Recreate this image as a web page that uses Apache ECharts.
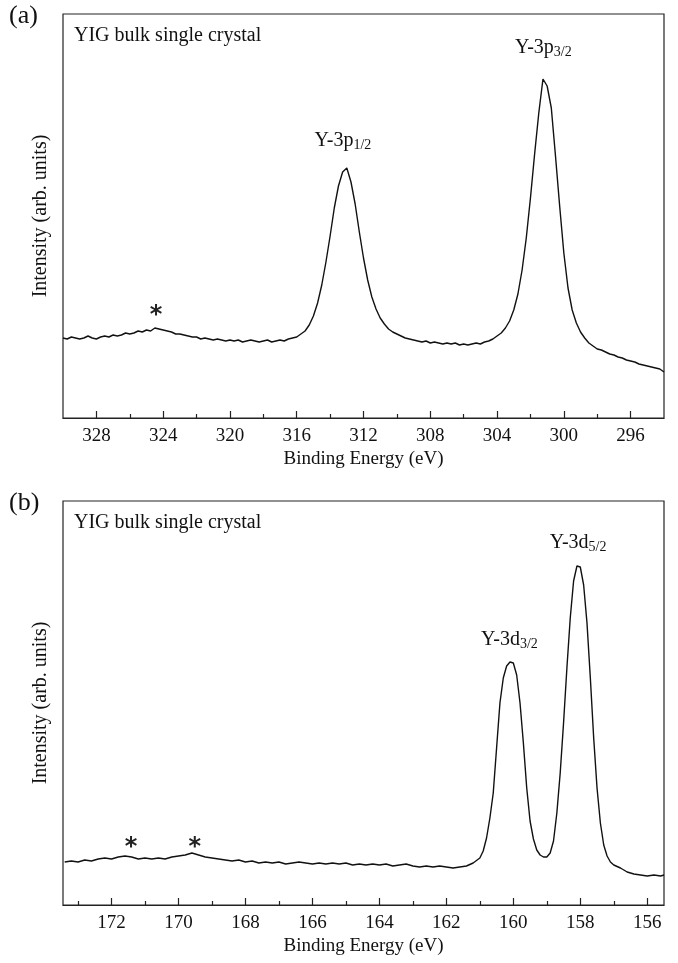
<!DOCTYPE html>
<html><head><meta charset="utf-8">
<script src="https://cdn.jsdelivr.net/npm/echarts@6/dist/echarts.min.js"></script>
<style>html,body{margin:0;padding:0;background:#fff}#c{width:678px;height:963px}</style>
</head><body><div id="c"></div><script>
const FONT = '"Liberation Serif","DejaVu Serif","Times New Roman",serif';

// Panel (a): Y-3p region, [binding energy (eV), intensity (arb.)]
const specA = [
[330.00,80],[329.75,79],[329.50,81],[329.25,80],[329.00,79],[328.75,80],[328.50,82],[328.25,80],[328.00,79],[327.75,81],
[327.50,82],[327.25,81],[327.00,83],[326.75,82],[326.50,83],[326.25,85],[326.00,84],[325.75,85],[325.50,87],[325.25,86],
[325.00,88],[324.75,87],[324.50,90],[324.25,89],[324.00,88],[323.75,87],[323.50,86],[323.25,84],[323.00,84],[322.75,83],
[322.50,82],[322.25,81],[322.00,81],[321.75,79],[321.50,80],[321.25,79],[321.00,78],[320.75,79],[320.50,78],[320.25,77],
[320.00,78],[319.75,77],[319.50,78],[319.25,76],[319.00,77],[318.75,78],[318.50,77],[318.25,76],[318.00,77],[317.75,78],
[317.50,76],[317.25,77],[317.00,78],[316.75,77],[316.50,79],[316.25,80],[316.00,81],[315.75,84],[315.50,87],[315.25,93],
[315.00,102],[314.75,115],[314.50,133],[314.25,156],[314.00,182],[313.75,210],[313.50,232],[313.25,246],[313.00,250],[312.75,236],
[312.50,214],[312.25,186],[312.00,160],[311.75,138],[311.50,121],[311.25,109],[311.00,100],[310.75,94],[310.50,89],[310.25,86],
[310.00,84],[309.75,82],[309.50,80],[309.25,79],[309.00,78],[308.75,77],[308.50,76],[308.25,77],[308.00,75],[307.75,76],
[307.50,75],[307.25,74],[307.00,75],[306.75,74],[306.50,75],[306.25,73],[306.00,74],[305.75,73],[305.50,74],[305.25,75],
[305.00,74],[304.75,76],[304.50,77],[304.25,79],[304.00,82],[303.75,85],[303.50,90],[303.25,97],[303.00,108],[302.75,124],
[302.50,148],[302.25,180],[302.00,220],[301.75,264],[301.50,305],[301.25,339],[301.15,341],[301.00,332],[300.75,310],[300.50,262],
[300.25,212],[300.00,165],[299.75,130],[299.50,108],[299.25,95],[299.00,86],[298.75,80],[298.50,75],[298.25,72],[298.00,69],
[297.75,68],[297.50,66],[297.25,64],[297.00,63],[296.75,61],[296.50,60],[296.25,58],[296.00,57],[295.75,56],[295.50,54],
[295.25,53],[295.00,52],[294.75,51],[294.50,50],[294.25,49],[294.00,46]
];

// Panel (b): Y-3d region
const specB = [
[173.4,43],[173.2,44],[173.0,43],[172.8,45],[172.6,44],[172.4,46],[172.2,47],[172.0,46],[171.8,48],[171.6,49],
[171.4,48],[171.2,46],[171.0,47],[170.8,46],[170.6,47],[170.4,46],[170.2,48],[170.0,49],[169.8,50],[169.6,52],
[169.4,50],[169.2,48],[169.0,47],[168.8,46],[168.6,45],[168.4,44],[168.2,45],[168.0,43],[167.8,44],[167.6,42],
[167.4,43],[167.2,42],[167.0,43],[166.8,41],[166.6,42],[166.4,43],[166.2,42],[166.0,41],[165.8,42],[165.6,41],
[165.4,42],[165.2,41],[165.0,42],[164.8,40],[164.6,41],[164.4,40],[164.2,41],[164.0,40],[163.8,41],[163.6,39],
[163.4,40],[163.2,41],[163.0,39],[162.8,38],[162.6,39],[162.4,38],[162.2,39],[162.0,38],[161.8,37],[161.6,38],
[161.4,39],[161.2,42],[161.0,47],[160.9,54],[160.8,67],[160.7,87],[160.6,112],[160.5,157],[160.4,202],[160.3,227],
[160.2,239],[160.1,243],[160.0,242],[159.9,230],[159.8,202],[159.7,162],[159.6,117],[159.5,84],[159.4,66],[159.3,55],
[159.2,50],[159.1,48],[159.0,48],[158.9,52],[158.8,64],[158.7,92],[158.6,132],[158.5,182],[158.4,237],[158.3,287],
[158.2,324],[158.1,339],[158.0,338],[157.9,320],[157.8,282],[157.7,227],[157.6,167],[157.5,117],[157.4,82],[157.3,60],
[157.2,49],[157.1,43],[157.0,40],[156.8,37],[156.6,33],[156.4,31],[156.2,30],[156.0,29],[155.8,30],[155.6,29],[155.5,30]
];

const majorTicksA = [328,324,320,316,312,308,304,300,296];
const minorTicksA = [326,322,318,314,310,306,302,298];
const majorTicksB = [172,170,168,166,164,162,160,158,156];
const minorTicksB = [173,171,169,167,165,163,161,159,157];

const peakLabelsA = [{e:313.2, i:277, main:'Y-3p', sub:'1/2'}, {e:301.2, i:370, main:'Y-3p', sub:'3/2'}];
const peakLabelsB = [{e:160.1, i:265, main:'Y-3d', sub:'3/2'}, {e:158.05, i:362, main:'Y-3d', sub:'5/2'}];
const starsA = [[324.4, 102]];
const starsB = [[171.4, 57], [169.5, 57]];

const rich = {
  m: {fontFamily: FONT, fontSize: 20, color: '#111', lineHeight: 20, verticalAlign: 'top'},
  s: {fontFamily: FONT, fontSize: 14, color: '#111', lineHeight: 14, padding: [8,0,0,0], verticalAlign: 'top'},
  a: {fontFamily: '"DejaVu Sans",sans-serif', fontSize: 24, fontWeight: 'bold', color: '#222'}
};

function xAxes(grid, min, max, major, minor) {
  return [
    {gridIndex: grid, type: 'value', min: min, max: max, inverse: true, position: 'bottom',
     axisLine: {onZero: false, lineStyle: {color: '#222', width: 1.2}},
     axisTick: {inside: true, length: 7, customValues: major, lineStyle: {color: '#222', width: 1.2}},
     axisLabel: {customValues: major, color: '#111', fontSize: 19, fontFamily: FONT, margin: 9},
     splitLine: {show: false},
     name: 'Binding Energy (eV)', nameLocation: 'middle', nameGap: 32,
     nameTextStyle: {color: '#111', fontSize: 19, fontFamily: FONT}},
    {gridIndex: grid, type: 'value', min: min, max: max, inverse: true, position: 'bottom',
     axisLine: {show: false, onZero: false},
     axisTick: {inside: true, length: 4, customValues: minor, lineStyle: {color: '#222', width: 1.2}},
     axisLabel: {show: false}, splitLine: {show: false}}
  ];
}
function yAxis(grid, max) {
  return {gridIndex: grid, type: 'value', min: 0, max: max,
    axisLine: {show: false}, axisTick: {show: false}, axisLabel: {show: false}, splitLine: {show: false},
    name: 'Intensity (arb. units)', nameLocation: 'middle', nameGap: 12,
    nameTextStyle: {color: '#111', fontSize: 20, fontFamily: FONT}};
}
function annot(xi, yi, arr) {
  return {type: 'scatter', xAxisIndex: xi, yAxisIndex: yi, symbolSize: 1,
    itemStyle: {color: 'rgba(0,0,0,0)'}, silent: true, z: 5,
    labelLayout: {hideOverlap: false},
    data: arr, label: {show: true, position: [0, 0], align: 'center', verticalAlign: 'middle',
      color: '#111', textBorderWidth: 0, opacity: 1, formatter: p => p.data[2], rich: rich}};
}

const chart = echarts.init(document.getElementById('c'), null, {renderer: 'canvas'});
chart.setOption({
  animation: false,
  backgroundColor: '#fff',
  grid: [
    {left: 63, top: 14, width: 601, height: 404, show: true, borderColor: '#222', borderWidth: 1.2, backgroundColor: 'transparent'},
    {left: 63, top: 501, width: 601, height: 404, show: true, borderColor: '#222', borderWidth: 1.2, backgroundColor: 'transparent'}
  ],
  xAxis: [].concat(xAxes(0, 294, 330, majorTicksA, minorTicksA), xAxes(1, 155.5, 173.45, majorTicksB, minorTicksB)),
  yAxis: [yAxis(0, 404), yAxis(1, 404)],
  graphic: [
    {type: 'text', left: 9, top: 3, style: {text: '(a)', font: '26px ' + FONT, fill: '#111'}},
    {type: 'text', left: 74, top: 26, style: {text: 'YIG bulk single crystal', font: '20px ' + FONT, fill: '#111'}},
    {type: 'text', left: 9, top: 490, style: {text: '(b)', font: '26px ' + FONT, fill: '#111'}},
    {type: 'text', left: 74, top: 513, style: {text: 'YIG bulk single crystal', font: '20px ' + FONT, fill: '#111'}}
  ],
  series: [
    {type: 'line', xAxisIndex: 0, yAxisIndex: 0, data: specA, symbol: 'none', silent: true,
     lineStyle: {color: '#111', width: 1.4}},
    {type: 'line', xAxisIndex: 2, yAxisIndex: 1, data: specB, symbol: 'none', silent: true,
     lineStyle: {color: '#111', width: 1.4}},
    annot(0, 0, peakLabelsA.map(d => [d.e, d.i, '{m|' + d.main + '}{s|' + d.sub + '}'])),
    annot(0, 0, starsA.map(d => [d[0], d[1], '{a|*}'])),
    annot(2, 1, peakLabelsB.map(d => [d.e, d.i, '{m|' + d.main + '}{s|' + d.sub + '}'])),
    annot(2, 1, starsB.map(d => [d[0], d[1], '{a|*}']))
  ]
});
</script></body></html>
